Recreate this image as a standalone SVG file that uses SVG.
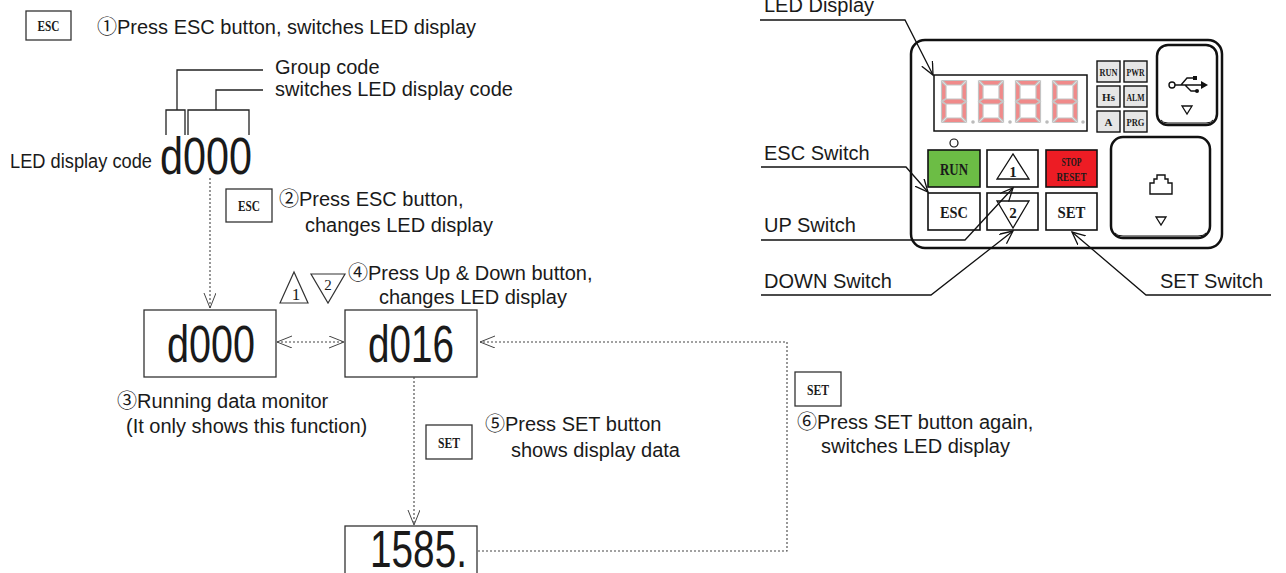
<svg xmlns="http://www.w3.org/2000/svg" width="1286" height="573" viewBox="0 0 1286 573">
<style>
.t{font-family:"Liberation Sans","Noto Sans CJK JP",sans-serif;font-size:20px;fill:#1a1a1a}
.big{font-family:"Liberation Sans",Arial,sans-serif;font-size:52px;fill:#1a1a1a}
.btn{font-family:"Liberation Serif",serif;font-weight:bold;fill:#1a1a1a;text-anchor:middle}
.box{fill:#fff;stroke:#333;stroke-width:1.3}
.ln{fill:none;stroke:#222;stroke-width:1.3}
.dot{fill:none;stroke:#444;stroke-width:1.1;stroke-dasharray:2 2}
.lead{fill:none;stroke:#111;stroke-width:1.3}
.ind{fill:#e6e6e6;stroke:#111;stroke-width:1.4}
.pb{stroke:#111;stroke-width:1.6}
.seg polygon{fill:#f08a8a;stroke:#c4c4c4;stroke-width:1.2}
</style>
<defs>
<marker id="fa" markerUnits="userSpaceOnUse" markerWidth="18" markerHeight="14" refX="15" refY="6" orient="auto-start-reverse">
<path d="M0,0 L15,6 L0,12" fill="none" stroke="#444" stroke-width="1"/>
</marker>
<marker id="la" markerUnits="userSpaceOnUse" markerWidth="16" markerHeight="14" refX="13" refY="6" orient="auto">
<path d="M0,0 L13,6 L0,12" fill="none" stroke="#111" stroke-width="1.3"/>
</marker>
<g id="seg8" class="seg">
<polygon points="1.5,0.5 24.5,0.5 20,5 6,5"/>
<polygon points="0.5,1.5 5,6 5,18.5 0.5,21"/>
<polygon points="25.5,1.5 25.5,21 21,18.5 21,6"/>
<polygon points="1.5,21.5 5,19 21,19 24.5,21.5 21,24 5,24"/>
<polygon points="0.5,22 5,24.5 5,37 0.5,41.5"/>
<polygon points="25.5,22 25.5,41.5 21,37 21,24.5"/>
<polygon points="6,38 20,38 24.5,42.5 1.5,42.5"/>
</g>
</defs>
<rect width="1286" height="573" fill="#fff"/>

<!-- Left instructions -->
<g id="esc-btn-1">
<rect class="box" x="26" y="11" width="45" height="29"/>
<text class="btn" x="48.5" y="30.5" font-size="14" textLength="22" lengthAdjust="spacingAndGlyphs">ESC</text>
</g>
<text class="t" x="97" y="34">①Press ESC button, switches LED display</text>

<g id="code-legend">
<path class="ln" d="M263,70 H177 V110 M166,135 V110 H185 V135 M263,90 H216 V110 M188,135 V110 H249 V135"/>
<text class="t" x="275" y="74">Group code</text>
<text class="t" x="275" y="96">switches LED display code</text>
<text class="t" x="10" y="168" textLength="142" lengthAdjust="spacingAndGlyphs">LED display code</text>
<text class="big" x="160" y="174" textLength="92" lengthAdjust="spacingAndGlyphs">d000</text>
</g>

<g id="esc-btn-2">
<rect class="box" x="226" y="189" width="46" height="33"/>
<text class="btn" x="249" y="210.5" font-size="14" textLength="22" lengthAdjust="spacingAndGlyphs">ESC</text>
</g>
<text class="t" x="279" y="206">②Press ESC button,</text>
<text class="t" x="305" y="232">changes LED display</text>

<g id="updown-icons">
<polygon points="280,303 294,272 308,303" fill="#fff" stroke="#333" stroke-width="1.2"/>
<text x="296" y="300" font-family="Liberation Serif,serif" font-size="17" text-anchor="middle" fill="#1a1a1a">1</text>
<polygon points="311,274 345,274 328,303" fill="#fff" stroke="#333" stroke-width="1.2"/>
<text x="328" y="290" font-family="Liberation Serif,serif" font-size="15" text-anchor="middle" fill="#1a1a1a">2</text>
</g>
<text class="t" x="348" y="280">④Press Up &amp; Down button,</text>
<text class="t" x="379" y="304">changes LED display</text>

<g id="node-d000">
<rect class="box" x="144" y="310" width="132" height="67"/>
<text class="big" x="167" y="362" textLength="88" lengthAdjust="spacingAndGlyphs">d000</text>
</g>
<g id="node-d016">
<rect class="box" x="345" y="310" width="132" height="67"/>
<text class="big" x="368" y="362" textLength="86" lengthAdjust="spacingAndGlyphs">d016</text>
</g>
<g id="node-1585">
<rect class="box" x="345" y="526" width="132" height="60"/>
<text class="big" x="370" y="567" textLength="97" lengthAdjust="spacingAndGlyphs">1585.</text>
</g>

<text class="t" x="117" y="408">③Running data monitor</text>
<text class="t" x="126" y="433">(It only shows this function)</text>

<g id="set-btn-1">
<rect class="box" x="426" y="425" width="46" height="34"/>
<text class="btn" x="449" y="447.5" font-size="14" textLength="22" lengthAdjust="spacingAndGlyphs">SET</text>
</g>
<text class="t" x="485" y="431">⑤Press SET button</text>
<text class="t" x="511" y="457">shows display data</text>

<g id="set-btn-2">
<rect class="box" x="795" y="372" width="46" height="34"/>
<text class="btn" x="818" y="394.5" font-size="14" textLength="22" lengthAdjust="spacingAndGlyphs">SET</text>
</g>
<text class="t" x="797" y="429">⑥Press SET button again,</text>
<text class="t" x="821" y="453">switches LED display</text>

<g id="connectors">
<path class="dot" d="M210,178 V308" marker-end="url(#fa)"/>
<path class="dot" d="M277,342 H344" stroke-width="1.6" marker-start="url(#fa)" marker-end="url(#fa)"/>
<path class="dot" d="M414,377 V525" marker-end="url(#fa)"/>
<path class="dot" d="M478,551 H787 V342 H480" stroke-dasharray="1.2 2.2" marker-end="url(#fa)"/>
</g>

<!-- Right panel -->
<g id="panel">
<rect x="911" y="40" width="311" height="208" rx="14" fill="#fff" stroke="#111" stroke-width="2.5"/>
<g id="led-display">
<rect x="934" y="75" width="153" height="56" fill="#fff" stroke="#111" stroke-width="1.5"/>
<use href="#seg8" x="941" y="80"/>
<use href="#seg8" x="978" y="80"/>
<use href="#seg8" x="1015" y="80"/>
<use href="#seg8" x="1052" y="80"/>
<circle cx="973" cy="122" r="1.8" fill="#bbb"/>
<circle cx="1010" cy="122" r="1.8" fill="#bbb"/>
<circle cx="1047" cy="122" r="1.8" fill="#bbb"/>
<circle cx="1083" cy="122" r="1.8" fill="#bbb"/>
</g>
<g id="indicators">
<rect class="ind" x="1097" y="61" width="23" height="21"/>
<rect class="ind" x="1124" y="61" width="23" height="21"/>
<rect class="ind" x="1097" y="86" width="23" height="21"/>
<rect class="ind" x="1124" y="86" width="23" height="21"/>
<rect class="ind" x="1097" y="111" width="23" height="21"/>
<rect class="ind" x="1124" y="111" width="23" height="21"/>
<text class="btn" x="1108.5" y="76" font-size="11" textLength="18" lengthAdjust="spacingAndGlyphs">RUN</text>
<text class="btn" x="1135.5" y="76" font-size="11" textLength="18" lengthAdjust="spacingAndGlyphs">PWR</text>
<text class="btn" x="1108.5" y="101" font-size="11">Hs</text>
<text class="btn" x="1135.5" y="101" font-size="11" textLength="18" lengthAdjust="spacingAndGlyphs">ALM</text>
<text class="btn" x="1108.5" y="126" font-size="11">A</text>
<text class="btn" x="1135.5" y="126" font-size="11" textLength="18" lengthAdjust="spacingAndGlyphs">PRG</text>
</g>
<g id="usb-port">
<rect x="1157" y="45" width="60" height="80" rx="11" fill="#fff" stroke="#111" stroke-width="2.5"/>
<path d="M1161,120 Q1163,123 1168,123 H1206 Q1211,123 1213,120" fill="none" stroke="#111" stroke-width="1"/>
<circle cx="1172" cy="85" r="3" fill="#fff" stroke="#111" stroke-width="1.4"/>
<path d="M1175,85 H1201 M1181,85 L1187,78 H1193 M1185,85 L1191,91 H1196" fill="none" stroke="#111" stroke-width="1.4"/>
<polygon points="1201,81 1208,85 1201,89" fill="#111"/>
<rect x="1193" y="76" width="4" height="4" fill="#111"/>
<circle cx="1197" cy="91" r="2" fill="#111"/>
<polygon points="1182,106 1192,106 1187,114" fill="#fff" stroke="#111" stroke-width="1.3"/>
</g>
<g id="rj45-port">
<rect x="1111" y="137" width="99" height="101" rx="12" fill="#fff" stroke="#111" stroke-width="2.5"/>
<path d="M1115,233 Q1117,236 1123,236 H1198 Q1204,236 1206,233" fill="none" stroke="#111" stroke-width="1"/>
<path d="M1150,194 V183 H1154 V179 H1157 V175 H1165 V179 H1168 V183 H1172 V194 Z" fill="#fff" stroke="#111" stroke-width="1.4"/>
<polygon points="1156,217 1166,217 1161,225" fill="#fff" stroke="#111" stroke-width="1.3"/>
</g>
<circle cx="954" cy="143" r="4" fill="#fff" stroke="#111" stroke-width="1.2"/>
<g id="btn-run">
<rect class="pb" x="928" y="150" width="52" height="37" fill="#6cbd45"/>
<text class="btn" x="954" y="175" font-size="17" textLength="28" lengthAdjust="spacingAndGlyphs">RUN</text>
</g>
<g id="btn-up">
<rect class="pb" x="987" y="150" width="51" height="37" fill="#fff"/>
<polygon points="997,179 1013,154 1029,179" fill="#fff" stroke="#111" stroke-width="1.3"/>
<text class="btn" x="1013" y="177" font-size="15">1</text>
</g>
<g id="btn-stop">
<rect class="pb" x="1046" y="150" width="51" height="37" fill="#ed1c24"/>
<text class="btn" x="1071.5" y="166" font-size="13" textLength="20" lengthAdjust="spacingAndGlyphs">STOP</text>
<text class="btn" x="1071.5" y="181" font-size="13" textLength="30" lengthAdjust="spacingAndGlyphs">RESET</text>
</g>
<g id="btn-esc">
<rect class="pb" x="928" y="193" width="52" height="37" fill="#fff"/>
<text class="btn" x="954" y="218" font-size="17" textLength="28" lengthAdjust="spacingAndGlyphs">ESC</text>
</g>
<g id="btn-down">
<rect class="pb" x="987" y="193" width="51" height="37" fill="#fff"/>
<polygon points="997,201 1029,201 1013,228" fill="#fff" stroke="#111" stroke-width="1.3"/>
<text class="btn" x="1013" y="218" font-size="15">2</text>
</g>
<g id="btn-set">
<rect class="pb" x="1046" y="193" width="51" height="37" fill="#fff"/>
<text class="btn" x="1071.5" y="218" font-size="17" textLength="28" lengthAdjust="spacingAndGlyphs">SET</text>
</g>
</g>

<g id="leaders">
<path class="lead" d="M760,20 H905 L933,75" marker-end="url(#la)"/>
<path class="lead" d="M761,167 H906 L928,192" marker-end="url(#la)"/>
<path class="lead" d="M761,240 H965 L1013,188" marker-end="url(#la)"/>
<path class="lead" d="M761,295 H931 L1013,231" marker-end="url(#la)"/>
<path class="lead" d="M1271,295 H1146 L1072,232" marker-end="url(#la)"/>
</g>
<text class="t" x="764" y="12">LED Display</text>
<text class="t" x="764" y="160">ESC Switch</text>
<text class="t" x="764" y="232">UP Switch</text>
<text class="t" x="764" y="288">DOWN Switch</text>
<text class="t" x="1160" y="288">SET Switch</text>
</svg>
